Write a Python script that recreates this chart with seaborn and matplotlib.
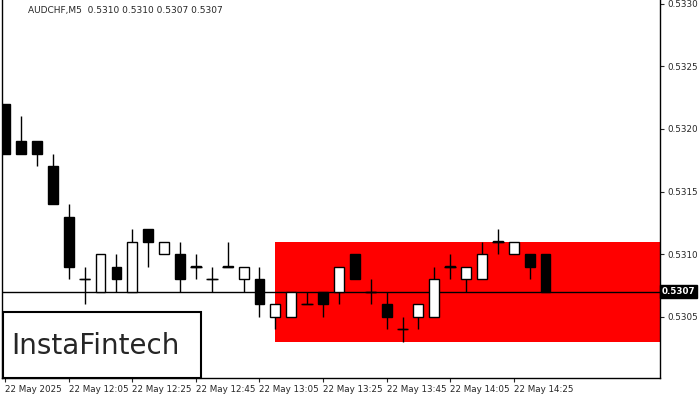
import matplotlib
matplotlib.use("Agg")
import matplotlib.pyplot as plt
import seaborn as sns
import numpy as np
from matplotlib.patches import Rectangle

sns.set_style("white")
plt.rcParams['font.family'] = ['DejaVu Sans']

opens  = [.5322,.5319,.5319,.5317,.5313,.5308,.5307,.5309,.5307,.5312,.5310,.5310,.5309,.5308,.5309,.5308,.5308,
          .5305,.5305,.5306,.5307,.5307,.5310,.5307,.5306,.5304,.5305,.5305,.5309,.5308,.5308,.5311,.5310,.5310,.5310]
highs  = [.5322,.5321,.5319,.5318,.5314,.5309,.5310,.5310,.5312,.5312,.5311,.5311,.5310,.5309,.5311,.5309,.5309,
          .5306,.5307,.5307,.5307,.5309,.5310,.5308,.5307,.5305,.5306,.5309,.5310,.5309,.5311,.5312,.5311,.5310,.5310]
lows   = [.5318,.5318,.5317,.5314,.5308,.5306,.5307,.5307,.5307,.5309,.5310,.5307,.5308,.5307,.5309,.5307,.5305,
          .5304,.5305,.5306,.5305,.5306,.5308,.5306,.5304,.5303,.5304,.5305,.5308,.5307,.5308,.5310,.5310,.5308,.5307]
closes = [.5318,.5318,.5318,.5314,.5309,.5308,.5310,.5308,.5311,.5311,.5311,.5308,.5309,.5308,.5309,.5309,.5306,
          .5306,.5307,.5306,.5306,.5309,.5308,.5307,.5305,.5304,.5306,.5308,.5309,.5309,.5310,.5311,.5311,.5309,.5307]
tick_labels = ["22 May 2025", "22 May 12:05", "22 May 12:25", "22 May 12:45", "22 May 13:05",
               "22 May 13:25", "22 May 13:45", "22 May 14:05", "22 May 14:25"]
y_ticks = [0.5305, 0.5310, 0.5315, 0.5320, 0.5325, 0.5330]
current_price = 0.5307
zone_low, zone_high, zone_start = 0.5303, 0.5311, 17
title = "AUDCHF,M5  0.5310 0.5310 0.5307 0.5307"

fig = plt.figure(figsize=(7, 4), dpi=100)
ax = fig.add_axes([2/700, 22/400, 658/700, 378/400])
ax.set_xlim(-0.2, 41.2)
ax.set_ylim(0.53001, 0.53303)

n = len(opens)
x = np.arange(n)
ax.add_patch(Rectangle((zone_start, zone_low), 41.2 - zone_start, zone_high - zone_low,
                       facecolor="#ff0000", edgecolor="none", zorder=1))
ax.axhline(current_price, color="black", lw=1, zorder=2)
o = np.array(opens); c = np.array(closes)
ax.vlines(x, lows, highs, color="black", lw=1, zorder=3)
bull = c >= o
bottoms = np.minimum(o, c); heights = np.abs(c - o)
heights = np.where(heights == 0, 0.000001, heights)
ax.bar(x[bull], heights[bull], bottom=bottoms[bull], width=0.62, color="white",
       edgecolor="black", lw=1, zorder=4)
ax.bar(x[~bull], heights[~bull], bottom=bottoms[~bull], width=0.62, color="black",
       edgecolor="black", lw=1, zorder=4)
doji = o == c
ax.hlines(o[doji], x[doji] - 0.36, x[doji] + 0.36, color="black", lw=1, zorder=4)

ax.yaxis.tick_right()
ax.set_yticks(y_ticks)
ax.set_yticklabels([f"{v:.4f}" for v in y_ticks], fontsize=6.3)
ax.tick_params(axis="y", length=3, width=0.8, pad=2, right=True)
ax.set_xticks(np.arange(0, n, 4))
ax.set_xticklabels(tick_labels, fontsize=6.3, ha="left")
ax.tick_params(axis="x", length=3, width=0.8, pad=2, bottom=True)
for s in ax.spines.values():
    s.set_color("black"); s.set_linewidth(1)
ax.spines["top"].set_visible(False)

ax.text(1.003, current_price, f"{current_price:.4f}", transform=ax.get_yaxis_transform(),
        ha="left", va="center", fontsize=6.3, color="white", fontweight="bold",
        bbox=dict(boxstyle="square,pad=0.2", fc="black", ec="black"), clip_on=False)
ax.text(0.04, 0.985, title, transform=ax.transAxes, fontsize=6.5, ha="left", va="top")

fig.patches.append(Rectangle((3/700, 22/400), 198/700, 66/400, transform=fig.transFigure,
                             facecolor="white", edgecolor="black", lw=1.5, zorder=10))
fig.text(95/700, 54/400, "InstaFintech", fontsize=20, ha="center", va="center", zorder=11)
fig.savefig("out.png", dpi=100)
